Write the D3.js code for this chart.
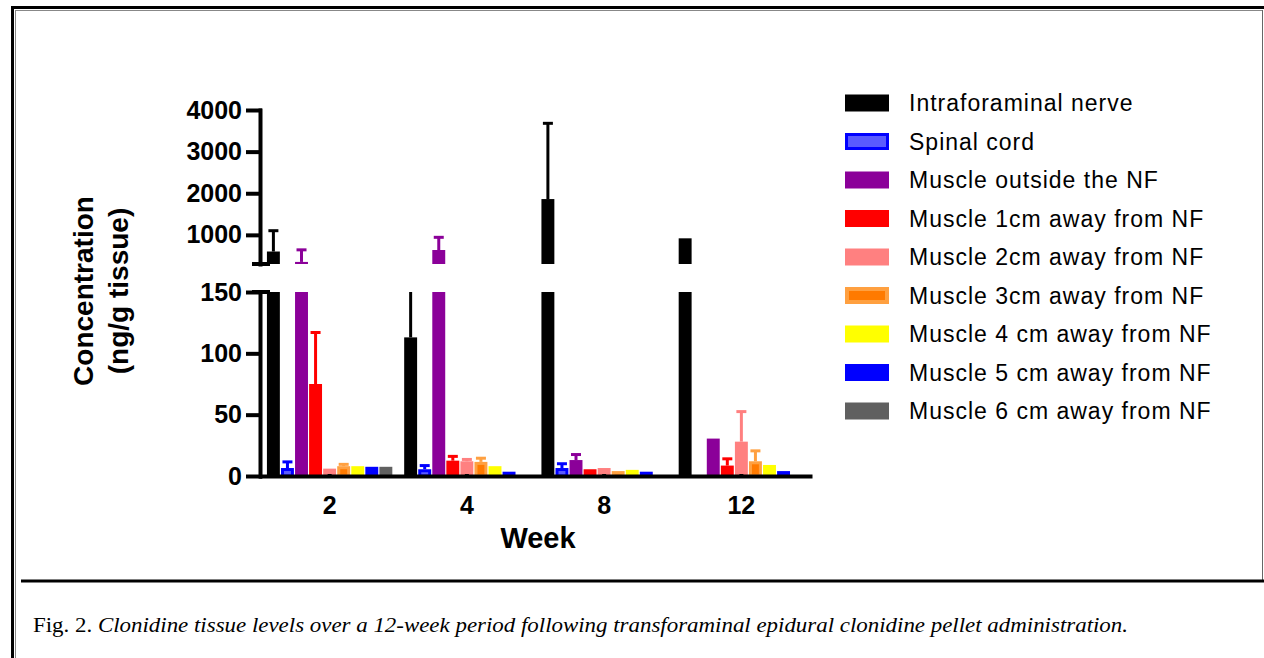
<!DOCTYPE html>
<html>
<head>
<meta charset="utf-8">
<script src="https://cdn.jsdelivr.net/npm/d3@7"></script>
<style>
body { margin: 0; background: #fff; }
svg { display: block; }
text { font-family: "Liberation Sans", Arial, sans-serif; fill: #000; }
</style>
</head>
<body>
<script>
const SvgWidth = 1264, SvgHeight = 658;

const weeks = ["2", "4", "8", "12"];
const series = ["Intraforaminal nerve", "Spinal cord", "Muscle outside the NF",
	"Muscle 1cm away from NF", "Muscle 2cm away from NF", "Muscle 3cm away from NF",
	"Muscle 4 cm away from NF", "Muscle 5 cm away from NF", "Muscle 6 cm away from NF"];

// mean concentration (ng/g tissue), same order as series
const week2Mean  = [600, 6.5, 350, 75, 6, 8, 8, 7.5, 7.5];
const week4Mean  = [113, 5.5, 636, 12.5, 12, 11.5, 8, 3.5, 0];
const week8Mean  = [1860, 6.5, 13, 5.5, 6.5, 4, 5, 3.5, 0];
const week12Mean = [917, 0, 30.5, 8.5, 28, 12, 9, 4, 0];
// upper error (SD)
const week2Sd  = [500, 5, 290, 42, 0, 1.5, 0, 0, 0];
const week4Sd  = [100, 3, 305, 3.5, 1.5, 3, 0, 0, 0];
const week8Sd  = [1820, 3.5, 4.5, 0, 0, 0, 0, 0, 0];
const week12Sd = [0, 0, 0, 5.5, 24.5, 8.5, 0, 0, 0];

const upperTicks = [1000, 2000, 3000, 4000];
const lowerTicks = [0, 50, 100, 150];

const fills   = ["#000000", "#5a5aff", "#8b0099", "#ff0000", "#ff8080", "#ff7a00", "#ffff00", "#0000ff", "#606060"];
const strokes = [null, "#0000ff", null, null, null, "#ffa040", null, null, null];
const errColors = ["#000000", "#0000ff", "#8b0099", "#ff0000", "#ff8080", "#ffa040", "#ffff00", "#0000ff", "#606060"];

var means = [week2Mean, week4Mean, week8Mean, week12Mean];
var sds = [week2Sd, week4Sd, week8Sd, week12Sd];

var rows = [];
weeks.forEach(function(w, i){
	series.forEach(function(s, j){
		rows.push({week: w, series: s, idx: j, mean: means[i][j], sd: sds[i][j]});
	});
});

var svg = d3.select('body')
			.append('svg')
			.attr('width', SvgWidth)
			.attr('height', SvgHeight)
			.style('background-color', 'white');

// page frame
svg.append('line').attr('x1', 11).attr('x2', 1264).attr('y1', 7.5).attr('y2', 7.5)
	.attr('stroke', '#000').attr('stroke-width', 3);
svg.append('line').attr('x1', 12.5).attr('x2', 12.5).attr('y1', 6).attr('y2', 658)
	.attr('stroke', '#000').attr('stroke-width', 3);
svg.append('line').attr('x1', 15).attr('x2', 1262).attr('y1', 10.5).attr('y2', 10.5)
	.attr('stroke', '#888').attr('stroke-width', 1);
svg.append('line').attr('x1', 15.5).attr('x2', 15.5).attr('y1', 10).attr('y2', 658)
	.attr('stroke', '#888').attr('stroke-width', 1);
svg.append('line').attr('x1', 1262.5).attr('x2', 1262.5).attr('y1', 10).attr('y2', 580)
	.attr('stroke', '#666').attr('stroke-width', 1);
svg.append('line').attr('x1', 21).attr('x2', 1264).attr('y1', 581).attr('y2', 581)
	.attr('stroke', '#000').attr('stroke-width', 3);

var x0 = d3.scaleBand().domain(weeks).range([261, 810]).paddingInner(0.07).paddingOuter(0.035);
var x1 = d3.scaleBand().domain(series).range([0, x0.bandwidth()]).padding(0.08);
var yLow = d3.scaleLinear().domain([0, 150]).range([476, 292]);
var yHigh = d3.scaleLinear().domain([300, 4000]).range([264, 110]);

var g = svg.append('g');

function barX(d){ return x0(d.week) + x1(d.series); }

// lower segment bars
g.selectAll('.bar-low')
	.data(rows.filter(function(d){ return d.mean > 0; }))
	.enter().append('rect')
	.attr('class', 'bar-low')
	.attr('x', function(d){ return barX(d) + (strokes[d.idx] ? 1.5 : 0); })
	.attr('y', function(d){ return yLow(Math.min(d.mean, 150)) + (strokes[d.idx] ? 1.5 : 0); })
	.attr('width', function(d){ return x1.bandwidth() - (strokes[d.idx] ? 3 : 0); })
	.attr('height', function(d){ return yLow(0) - yLow(Math.min(d.mean, 150)) - (strokes[d.idx] ? 1.5 : 0); })
	.attr('fill', function(d){ return fills[d.idx]; })
	.attr('stroke', function(d){ return strokes[d.idx] || 'none'; })
	.attr('stroke-width', 3);

// upper segment bars
g.selectAll('.bar-high')
	.data(rows.filter(function(d){ return d.mean > 300; }))
	.enter().append('rect')
	.attr('class', 'bar-high')
	.attr('x', barX)
	.attr('y', function(d){ return yHigh(d.mean); })
	.attr('width', x1.bandwidth())
	.attr('height', function(d){ return yHigh(300) - yHigh(d.mean); })
	.attr('fill', function(d){ return fills[d.idx]; });

// error bars (upper only)
var capHalf = 5;
rows.filter(function(d){ return d.sd > 0; }).forEach(function(d){
	var cx = barX(d) + x1.bandwidth() / 2;
	var top = d.mean + d.sd;
	var col = errColors[d.idx];
	if (d.mean < 150) {
		g.append('line').attr('x1', cx).attr('x2', cx)
			.attr('y1', yLow(d.mean)).attr('y2', yLow(Math.min(top, 150)))
			.attr('stroke', col).attr('stroke-width', 3);
		if (top <= 150) {
			g.append('line').attr('x1', cx - capHalf).attr('x2', cx + capHalf)
				.attr('y1', yLow(top)).attr('y2', yLow(top))
				.attr('stroke', col).attr('stroke-width', 3);
		}
	}
	if (top > 300) {
		g.append('line').attr('x1', cx).attr('x2', cx)
			.attr('y1', yHigh(Math.max(d.mean, 300))).attr('y2', yHigh(top))
			.attr('stroke', col).attr('stroke-width', 3);
		g.append('line').attr('x1', cx - capHalf).attr('x2', cx + capHalf)
			.attr('y1', yHigh(top)).attr('y2', yHigh(top))
			.attr('stroke', col).attr('stroke-width', 3);
	}
});

// axes
function styleAxis(sel){
	sel.selectAll('path, line').attr('stroke', '#000').attr('stroke-width', 4).attr('stroke-linecap', 'square');
	sel.selectAll('text').attr('font-size', 25).attr('font-weight', 'bold').attr('fill', '#000')
		.attr('font-family', '"Liberation Sans", Arial, sans-serif');
}

g.append('g')
	.attr('transform', 'translate(260,0)')
	.call(d3.axisLeft(yHigh).tickValues(upperTicks).tickFormat(d3.format('d'))
		.tickSize(12).tickSizeOuter(0).tickPadding(6))
	.call(styleAxis);

g.append('g')
	.attr('transform', 'translate(260,0)')
	.call(d3.axisLeft(yLow).tickValues(lowerTicks).tickFormat(d3.format('d'))
		.tickSize(12).tickSizeOuter(0).tickPadding(6))
	.call(styleAxis);

// break caps
[yHigh(300), yLow(150)].forEach(function(yy){
	g.append('line').attr('x1', 252).attr('x2', 270).attr('y1', yy).attr('y2', yy)
		.attr('stroke', '#000').attr('stroke-width', 4);
});

g.append('g')
	.attr('transform', 'translate(0,' + yLow(0) + ')')
	.call(d3.axisBottom(x0).tickSize(0).tickSizeOuter(0).tickPadding(20))
	.call(styleAxis);

// titles
svg.append('text').attr('x', 538).attr('y', 548).attr('text-anchor', 'middle')
	.attr('font-size', 29).attr('font-weight', 'bold').text('Week');

var yt = svg.append('text').attr('transform', 'translate(93,291) rotate(-90)')
	.attr('text-anchor', 'middle').attr('font-size', 28).attr('font-weight', 'bold');
yt.append('tspan').attr('x', 0).attr('y', 0).text('Concentration');
yt.append('tspan').attr('x', 0).attr('y', 35).text('(ng/g tissue)');

// legend
var ly = d3.scalePoint().domain(series).range([103, 411]);
var lg = svg.append('g');
series.forEach(function(s, j){
	var sw = strokes[j] ? (j === 5 ? 4 : 3) : 0;
	lg.append('rect')
		.attr('x', 845 + sw / 2).attr('y', ly(s) - 8.5 + sw / 2)
		.attr('width', 44 - sw).attr('height', 17 - sw)
		.attr('fill', fills[j])
		.attr('stroke', strokes[j] || 'none')
		.attr('stroke-width', sw);
	lg.append('text')
		.attr('x', 909).attr('y', ly(s))
		.attr('dy', '0.36em')
		.attr('font-size', 23)
		.attr('letter-spacing', 1)
		.text(s);
});

// caption
var cap = svg.append('text').attr('x', 33).attr('y', 632)
	.attr('font-size', 20)
	.style('font-family', '"Liberation Serif", "DejaVu Serif", serif')
	.attr('textLength', 1095).attr('lengthAdjust', 'spacingAndGlyphs');
cap.append('tspan').text('Fig. 2. ');
cap.append('tspan').attr('font-style', 'italic')
	.text('Clonidine tissue levels over a 12-week period following transforaminal epidural clonidine pellet administration.');
</script>
</body>
</html>
